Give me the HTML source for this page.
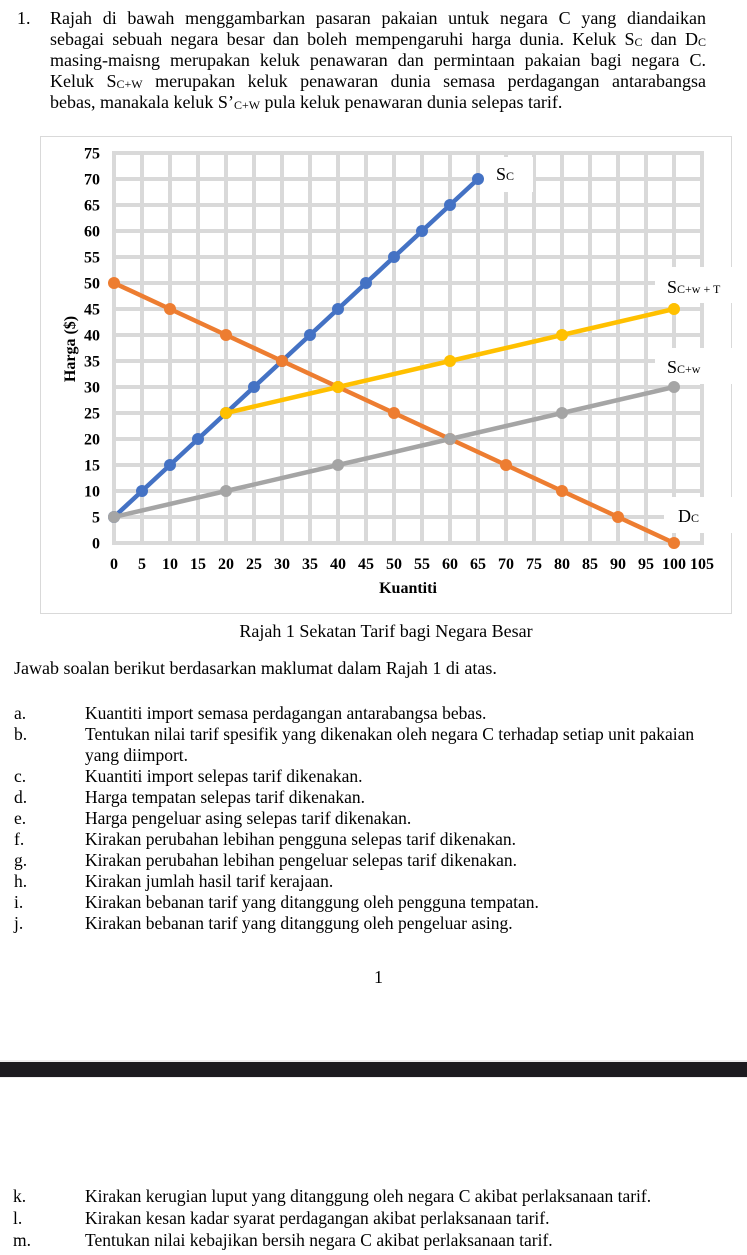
<!DOCTYPE html>
<html>
<head>
<meta charset="utf-8">
<style>
  html, body { margin:0; padding:0; background:#fff; }
  body { width:747px; height:1255px; position:relative; overflow:hidden; }
  .t { position:absolute; font-family:"Liberation Serif", "Times New Roman", serif; font-size:18px; line-height:20px; white-space:nowrap; color:#000; }
  .l { font-size:17.5px; }
  .j { width:656px; text-align:justify; text-align-last:justify; }
  .sb { font-size:12px; vertical-align:-1px; }
  svg text { font-family:"Liberation Serif", "Times New Roman", serif; }
</style>
</head>
<body>

<!-- Top paragraph -->
<div class="t" style="left:17px;top:8px;">1.</div>
<div class="t j" style="left:50px;top:8px;">Rajah di bawah menggambarkan pasaran pakaian untuk negara C yang diandaikan</div>
<div class="t j" style="left:50px;top:29px;">sebagai sebuah negara besar dan boleh mempengaruhi harga dunia. Keluk S<span class="sb">C</span> dan D<span class="sb">C</span></div>
<div class="t j" style="left:50px;top:50px;">masing-maisng merupakan keluk penawaran dan permintaan pakaian bagi negara C.</div>
<div class="t j" style="left:50px;top:71px;">Keluk S<span class="sb">C+W</span> merupakan keluk penawaran dunia semasa perdagangan antarabangsa</div>
<div class="t" style="left:50px;top:92px;">bebas, manakala keluk S’<span class="sb">C+W</span> pula keluk penawaran dunia selepas tarif.</div>

<!-- Chart -->
<svg style="position:absolute;left:0;top:0;" width="747" height="640" viewBox="0 0 747 640">
  <rect x="40.5" y="136.5" width="691" height="477" fill="#fff" stroke="#d9d9d9" stroke-width="1"/>
  <g stroke="#d9d9d9" stroke-width="4" fill="none">
    <path d="M114 151V545M142 151V545M170 151V545M198 151V545M226 151V545M254 151V545M282 151V545M310 151V545M338 151V545M366 151V545M394 151V545M422 151V545M450 151V545M478 151V545M506 151V545M534 151V545M562 151V545M590 151V545M618 151V545M646 151V545M674 151V545M702 151V545"/>
    <path d="M112 153H704M112 179H704M112 205H704M112 231H704M112 257H704M112 283H704M112 309H704M112 335H704M112 361H704M112 387H704M112 413H704M112 439H704M112 465H704M112 491H704M112 517H704M112 543H704"/>
  </g>
  <!-- label background boxes -->
  <rect x="481" y="157" width="52" height="35" fill="#fff"/>
  <rect x="655" y="267" width="81" height="36" fill="#fff"/>
  <rect x="655" y="348" width="81" height="36" fill="#fff"/>
  <rect x="664" y="497" width="72" height="36" fill="#fff"/>

  <!-- Y tick labels -->
  <g font-size="16" font-weight="bold" text-anchor="end" fill="#000">
    <text x="100" y="158.5">75</text>
    <text x="100" y="184.5">70</text>
    <text x="100" y="210.5">65</text>
    <text x="100" y="236.5">60</text>
    <text x="100" y="262.5">55</text>
    <text x="100" y="288.5">50</text>
    <text x="100" y="314.5">45</text>
    <text x="100" y="340.5">40</text>
    <text x="100" y="366.5">35</text>
    <text x="100" y="392.5">30</text>
    <text x="100" y="418.5">25</text>
    <text x="100" y="444.5">20</text>
    <text x="100" y="470.5">15</text>
    <text x="100" y="496.5">10</text>
    <text x="100" y="522.5">5</text>
    <text x="100" y="548.5">0</text>
  </g>
  <!-- X tick labels -->
  <g font-size="16" font-weight="bold" text-anchor="middle" fill="#000">
    <text x="114" y="569">0</text>
    <text x="142" y="569">5</text>
    <text x="170" y="569">10</text>
    <text x="198" y="569">15</text>
    <text x="226" y="569">20</text>
    <text x="254" y="569">25</text>
    <text x="282" y="569">30</text>
    <text x="310" y="569">35</text>
    <text x="338" y="569">40</text>
    <text x="366" y="569">45</text>
    <text x="394" y="569">50</text>
    <text x="422" y="569">55</text>
    <text x="450" y="569">60</text>
    <text x="478" y="569">65</text>
    <text x="506" y="569">70</text>
    <text x="534" y="569">75</text>
    <text x="562" y="569">80</text>
    <text x="590" y="569">85</text>
    <text x="618" y="569">90</text>
    <text x="646" y="569">95</text>
    <text x="674" y="569">100</text>
    <text x="702" y="569">105</text>
  </g>
  <text x="408" y="593" font-size="16" font-weight="bold" text-anchor="middle">Kuantiti</text>
  <text transform="translate(75,349) rotate(-90)" font-size="16" font-weight="bold" text-anchor="middle">Harga ($)</text>

  <!-- Sc (blue) -->
  <g fill="#4472C4">
    <polyline points="114,517 142,491 170,465 198,439 226,413 254,387 282,361 310,335 338,309 366,283 394,257 422,231 450,205 478,179" fill="none" stroke="#4472C4" stroke-width="4.5" stroke-linejoin="round"/>
    <circle cx="114" cy="517" r="6"/><circle cx="142" cy="491" r="6"/><circle cx="170" cy="465" r="6"/><circle cx="198" cy="439" r="6"/><circle cx="226" cy="413" r="6"/><circle cx="254" cy="387" r="6"/><circle cx="282" cy="361" r="6"/><circle cx="310" cy="335" r="6"/><circle cx="338" cy="309" r="6"/><circle cx="366" cy="283" r="6"/><circle cx="394" cy="257" r="6"/><circle cx="422" cy="231" r="6"/><circle cx="450" cy="205" r="6"/><circle cx="478" cy="179" r="6"/>
  </g>
  <!-- Dc (orange) -->
  <g fill="#ED7D31">
    <polyline points="114,283 170,309 226,335 282,361 338,387 394,413 450,439 506,465 562,491 618,517 674,543" fill="none" stroke="#ED7D31" stroke-width="4.5" stroke-linejoin="round"/>
    <circle cx="114" cy="283" r="6"/><circle cx="170" cy="309" r="6"/><circle cx="226" cy="335" r="6"/><circle cx="282" cy="361" r="6"/><circle cx="338" cy="387" r="6"/><circle cx="394" cy="413" r="6"/><circle cx="450" cy="439" r="6"/><circle cx="506" cy="465" r="6"/><circle cx="562" cy="491" r="6"/><circle cx="618" cy="517" r="6"/><circle cx="674" cy="543" r="6"/>
  </g>
  <!-- Sc+w (gray) -->
  <g fill="#A5A5A5">
    <polyline points="114,517 226,491 338,465 450,439 562,413 674,387" fill="none" stroke="#A5A5A5" stroke-width="4.5" stroke-linejoin="round"/>
    <circle cx="114" cy="517" r="6"/><circle cx="226" cy="491" r="6"/><circle cx="338" cy="465" r="6"/><circle cx="450" cy="439" r="6"/><circle cx="562" cy="413" r="6"/><circle cx="674" cy="387" r="6"/>
  </g>
  <!-- Sc+w+T (yellow) -->
  <g fill="#FFC000">
    <polyline points="226,413 338,387 450,361 562,335 674,309" fill="none" stroke="#FFC000" stroke-width="4.5" stroke-linejoin="round"/>
    <circle cx="226" cy="413" r="6"/><circle cx="338" cy="387" r="6"/><circle cx="450" cy="361" r="6"/><circle cx="562" cy="335" r="6"/><circle cx="674" cy="309" r="6"/>
  </g>

  <!-- curve labels -->
  <text x="496" y="180" font-size="18" fill="#000">S<tspan font-size="12">C</tspan></text>
  <text x="667" y="293" font-size="18" fill="#000">S<tspan font-size="12">C+w + T</tspan></text>
  <text x="667" y="373" font-size="18" fill="#000">S<tspan font-size="12">C+w</tspan></text>
  <text x="678" y="522" font-size="18" fill="#000">D<tspan font-size="12">C</tspan></text>
</svg>

<!-- Caption -->
<div class="t" style="left:0;top:621px;width:772px;text-align:center;">Rajah 1 Sekatan Tarif bagi Negara Besar</div>

<div class="t" style="left:14px;top:658px;">Jawab soalan berikut berdasarkan maklumat dalam Rajah 1 di atas.</div>

<div class="t l" style="left:14px;top:703px;">a.</div>
<div class="t l" style="left:85px;top:703px;">Kuantiti import semasa perdagangan antarabangsa bebas.</div>
<div class="t l" style="left:14px;top:724px;">b.</div>
<div class="t l" style="left:85px;top:724px;">Tentukan nilai tarif spesifik yang dikenakan oleh negara C terhadap setiap unit pakaian</div>
<div class="t l" style="left:85px;top:745px;">yang diimport.</div>
<div class="t l" style="left:14px;top:766px;">c.</div>
<div class="t l" style="left:85px;top:766px;">Kuantiti import selepas tarif dikenakan.</div>
<div class="t l" style="left:14px;top:787px;">d.</div>
<div class="t l" style="left:85px;top:787px;">Harga tempatan selepas tarif dikenakan.</div>
<div class="t l" style="left:14px;top:808px;">e.</div>
<div class="t l" style="left:85px;top:808px;">Harga pengeluar asing selepas tarif dikenakan.</div>
<div class="t l" style="left:14px;top:829px;">f.</div>
<div class="t l" style="left:85px;top:829px;">Kirakan perubahan lebihan pengguna selepas tarif dikenakan.</div>
<div class="t l" style="left:14px;top:850px;">g.</div>
<div class="t l" style="left:85px;top:850px;">Kirakan perubahan lebihan pengeluar selepas tarif dikenakan.</div>
<div class="t l" style="left:14px;top:871px;">h.</div>
<div class="t l" style="left:85px;top:871px;">Kirakan jumlah hasil tarif kerajaan.</div>
<div class="t l" style="left:14px;top:892px;">i.</div>
<div class="t l" style="left:85px;top:892px;">Kirakan bebanan tarif yang ditanggung oleh pengguna tempatan.</div>
<div class="t l" style="left:14px;top:913px;">j.</div>
<div class="t l" style="left:85px;top:913px;">Kirakan bebanan tarif yang ditanggung oleh pengeluar asing.</div>

<div class="t" style="left:374px;top:967px;">1</div>

<!-- page break band -->
<div style="position:absolute;left:0;top:1060px;width:747px;height:2px;background:#eeeef0;"></div>
<div style="position:absolute;left:0;top:1062px;width:747px;height:15px;background:#1c1b20;"></div>
<div style="position:absolute;left:0;top:1077px;width:747px;height:1px;background:#eeeef0;"></div>

<div class="t l" style="left:13px;top:1186px;">k.</div>
<div class="t l" style="left:85px;top:1186px;">Kirakan kerugian luput yang ditanggung oleh negara C akibat perlaksanaan tarif.</div>
<div class="t l" style="left:13px;top:1208px;">l.</div>
<div class="t l" style="left:85px;top:1208px;">Kirakan kesan kadar syarat perdagangan akibat perlaksanaan tarif.</div>
<div class="t l" style="left:13px;top:1230px;">m.</div>
<div class="t l" style="left:85px;top:1230px;">Tentukan nilai kebajikan bersih negara C akibat perlaksanaan tarif.</div>

</body>
</html>
